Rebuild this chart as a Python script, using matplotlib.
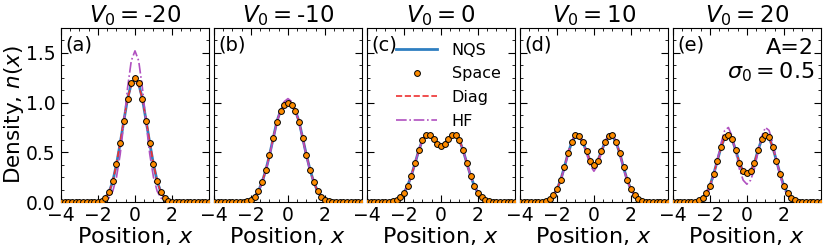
import numpy as np
import matplotlib
matplotlib.use("Agg")
import matplotlib.pyplot as plt
from matplotlib.ticker import MultipleLocator
from matplotlib.lines import Line2D

# densities on the half grid x = 0, 0.2, ..., 4.0 (profiles are symmetric)
x_half = [0.0, 0.2, 0.4, 0.6, 0.8, 1.0, 1.2, 1.4, 1.6, 1.8, 2.0,
          2.2, 2.4, 2.6, 2.8, 3.0, 3.2, 3.4, 3.6, 3.8, 4.0]

V0_list = [-20, -10, 0, 10, 20]
panel_tags = ['(a)', '(b)', '(c)', '(d)', '(e)']

# V0 = -20
a_nqs = [1.23, 1.19, 1.04, 0.82, 0.59, 0.38, 0.21, 0.10, 0.045, 0.015, 0.005,
         0.001, 0, 0, 0, 0, 0, 0, 0, 0, 0]
a_space = [1.25, 1.20, 1.04, 0.82, 0.59, 0.38, 0.21, 0.10, 0.045, 0.015, 0.005,
           0.001, 0, 0, 0, 0, 0, 0, 0, 0, 0]
a_diag = [1.21, 1.17, 1.04, 0.83, 0.60, 0.385, 0.21, 0.10, 0.045, 0.015, 0.005,
          0.001, 0, 0, 0, 0, 0, 0, 0, 0, 0]
a_hf = [1.52, 1.42, 1.15, 0.80, 0.48, 0.25, 0.11, 0.043, 0.015, 0.004, 0.001,
        0, 0, 0, 0, 0, 0, 0, 0, 0, 0]

# V0 = -10
b_nqs = [1.00, 0.975, 0.92, 0.81, 0.64, 0.47, 0.32, 0.20, 0.11, 0.055, 0.024,
         0.009, 0.003, 0.001, 0, 0, 0, 0, 0, 0, 0]
b_space = [1.00, 0.98, 0.92, 0.81, 0.64, 0.47, 0.32, 0.20, 0.11, 0.055, 0.024,
           0.009, 0.003, 0.001, 0, 0, 0, 0, 0, 0, 0]
b_diag = [0.995, 0.97, 0.915, 0.81, 0.64, 0.47, 0.32, 0.20, 0.11, 0.055, 0.024,
          0.009, 0.003, 0.001, 0, 0, 0, 0, 0, 0, 0]
b_hf = [1.04, 1.01, 0.93, 0.80, 0.63, 0.46, 0.31, 0.19, 0.10, 0.05, 0.02,
        0.007, 0.002, 0, 0, 0, 0, 0, 0, 0, 0]

# V0 = 0
c_nqs = [0.564, 0.586, 0.635, 0.677, 0.678, 0.623, 0.519, 0.391, 0.267, 0.165, 0.093,
         0.048, 0.022, 0.0095, 0.0037, 0.0013, 0.0004, 0.0001, 0, 0, 0]
c_space = [0.565, 0.586, 0.635, 0.677, 0.678, 0.623, 0.519, 0.391, 0.267, 0.165, 0.093,
           0.048, 0.022, 0.0095, 0.0037, 0.0013, 0.0004, 0.0001, 0, 0, 0]
c_diag = [0.564, 0.586, 0.635, 0.677, 0.678, 0.623, 0.519, 0.391, 0.267, 0.165, 0.093,
          0.048, 0.022, 0.0095, 0.0037, 0.0013, 0.0004, 0.0001, 0, 0, 0]
c_hf = [0.564, 0.586, 0.635, 0.677, 0.678, 0.623, 0.519, 0.391, 0.267, 0.165, 0.093,
        0.048, 0.022, 0.0095, 0.0037, 0.0013, 0.0004, 0.0001, 0, 0, 0]

# V0 = 10
d_nqs = [0.37, 0.41, 0.51, 0.60, 0.66, 0.665, 0.60, 0.49, 0.35, 0.22, 0.13,
         0.068, 0.031, 0.013, 0.005, 0.002, 0.0005, 0, 0, 0, 0]
d_space = [0.37, 0.41, 0.51, 0.60, 0.665, 0.67, 0.60, 0.49, 0.35, 0.22, 0.13,
           0.068, 0.031, 0.013, 0.005, 0.002, 0.0005, 0, 0, 0, 0]
d_diag = [0.37, 0.41, 0.51, 0.60, 0.66, 0.665, 0.60, 0.49, 0.35, 0.22, 0.13,
          0.068, 0.031, 0.013, 0.005, 0.002, 0.0005, 0, 0, 0, 0]
d_hf = [0.31, 0.37, 0.49, 0.61, 0.68, 0.69, 0.61, 0.48, 0.34, 0.21, 0.12,
        0.06, 0.027, 0.011, 0.004, 0.001, 0, 0, 0, 0, 0]

# V0 = 20
e_nqs = [0.29, 0.31, 0.39, 0.52, 0.63, 0.67, 0.65, 0.55, 0.415, 0.28, 0.165,
         0.088, 0.04, 0.017, 0.006, 0.002, 0.0005, 0, 0, 0, 0]
e_space = [0.295, 0.31, 0.39, 0.52, 0.63, 0.67, 0.65, 0.55, 0.415, 0.28, 0.165,
           0.088, 0.04, 0.017, 0.006, 0.002, 0.0005, 0, 0, 0, 0]
e_diag = [0.29, 0.31, 0.39, 0.52, 0.63, 0.67, 0.65, 0.55, 0.415, 0.28, 0.165,
          0.088, 0.04, 0.017, 0.006, 0.002, 0.0005, 0, 0, 0, 0]
e_hf = [0.18, 0.22, 0.33, 0.50, 0.66, 0.75, 0.72, 0.59, 0.42, 0.26, 0.14,
        0.065, 0.027, 0.01, 0.003, 0.001, 0, 0, 0, 0, 0]

nqs_all = [a_nqs, b_nqs, c_nqs, d_nqs, e_nqs]
space_all = [a_space, b_space, c_space, d_space, e_space]
diag_all = [a_diag, b_diag, c_diag, d_diag, e_diag]
hf_all = [a_hf, b_hf, c_hf, d_hf, e_hf]


def mirror(half):
    half = np.asarray(half, dtype=float)
    return np.concatenate([half[:0:-1], half])


x = np.concatenate([-np.asarray(x_half)[:0:-1], x_half])

col_nqs = '#2f7fc1'
col_space = '#ff8c00'
col_diag = '#ee3030'
col_hf = '#b050c0'

fig, axes = plt.subplots(1, 5, figsize=(8.3, 2.52), dpi=100, sharey=True)
fig.subplots_adjust(left=0.0735, right=0.989, bottom=0.198, top=0.889, wspace=0.034)

for i, ax in enumerate(axes):
    ax.plot(x, mirror(nqs_all[i]), '-', color=col_nqs, lw=2.0, zorder=2)
    ax.plot(x, mirror(diag_all[i]), '--', color=col_diag, lw=1.2, zorder=3)
    ax.plot(x, mirror(hf_all[i]), '-.', color=col_hf, lw=1.2, zorder=3)
    ax.plot(x, mirror(space_all[i]), 'o', color=col_space, ms=4.2,
            mec='black', mew=0.7, zorder=4)

    ax.set_xlim(-4, 4)
    ax.set_ylim(0, 1.75)
    ax.set_xticks([-4, -2, 0, 2])
    ax.xaxis.set_minor_locator(MultipleLocator(0.5))
    ax.set_yticks([0, 0.5, 1.0, 1.5])
    ax.yaxis.set_minor_locator(MultipleLocator(0.125))
    ax.tick_params(which='both', direction='in', top=True, right=True, labelsize=13.5)
    ax.tick_params(which='major', length=5, width=0.8)
    ax.tick_params(which='minor', length=2.5, width=0.6)
    ax.tick_params(axis='x', pad=2.5)
    ax.tick_params(axis='y', pad=4)
    ax.set_title('$V_0=$' + str(V0_list[i]), fontsize=16.5, pad=3)
    ax.set_xlabel('Position, $x$', fontsize=16, labelpad=0)
    ax.text(0.03, 0.955, panel_tags[i], transform=ax.transAxes,
            ha='left', va='top', fontsize=14)

axes[0].set_ylabel('Density, $n(x)$', fontsize=15.5, labelpad=0)

axes[4].text(0.955, 0.945, 'A=2\n$\\sigma_0 = 0.5$', transform=axes[4].transAxes,
             ha='right', va='top', fontsize=16, multialignment='right',
             linespacing=1.15)

handles = [Line2D([], [], color=col_nqs, lw=2.0),
           Line2D([], [], ls='none', marker='o', color=col_space, ms=4.2,
                  mec='black', mew=0.7),
           Line2D([], [], color=col_diag, lw=1.2, ls='--'),
           Line2D([], [], color=col_hf, lw=1.2, ls='-.')]
axes[2].legend(handles, ['NQS', 'Space', 'Diag', 'HF'], loc='upper left',
               bbox_to_anchor=(0.13, 0.97), frameon=False, fontsize=11.5,
               handlelength=2.6, handletextpad=0.9, labelspacing=0.54,
               borderaxespad=0.2)

fig.savefig('out.png', dpi=100)
